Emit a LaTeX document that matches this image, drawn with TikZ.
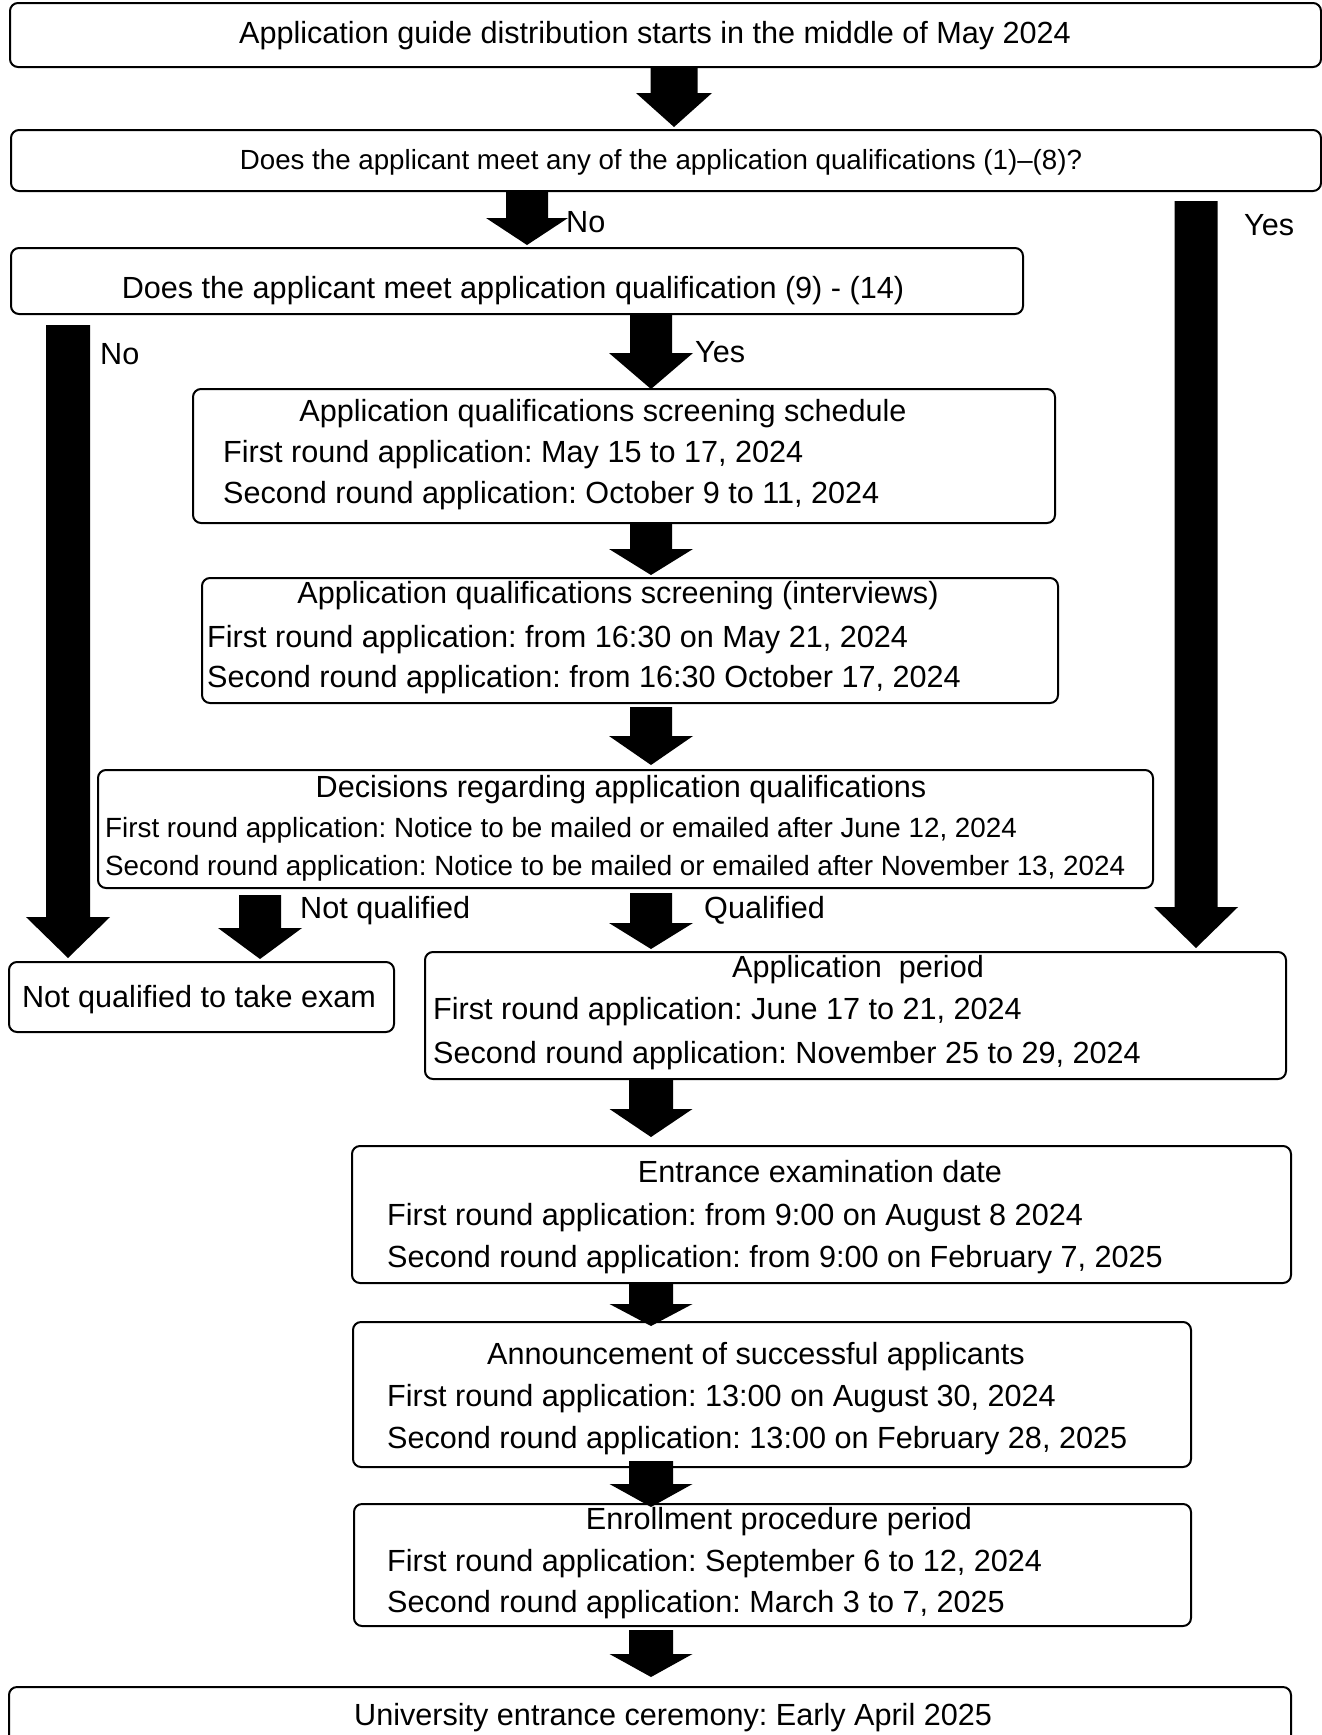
\documentclass[tikz,border=0pt]{standalone}
\usepackage{fontspec}
\setmainfont{Liberation Sans}
\usetikzlibrary{calc}
\frenchspacing

\tikzset{
  box/.style={draw, line width=2pt, rounded corners=8pt, anchor=north west, inner sep=0pt, fill=white},
  txt/.style={font=\fontsize{30.6}{36}\selectfont, inner sep=0pt, anchor=base},
  txtl/.style={txt, anchor=base west},
  smalltxt/.style={font=\fontsize{27.8}{33}\selectfont, inner sep=0pt, anchor=base west},
  smallc/.style={font=\fontsize{27.7}{33}\selectfont, inner sep=0pt, anchor=base},
  lbl/.style={txt, anchor=base west},
}

% #1 start point, #2 tip point, #3 head length, #4 head half width, #5 shaft half width
\newcommand\blockarrow[5]{%
  \fill let \p1=#1, \p2=#2 in
    (\x1-#5pt,\y1) -- (\x1-#5pt,\y2+#3pt) -- (\x1-#4pt,\y2+#3pt) -- (\x1,\y2)
    -- (\x1+#4pt,\y2+#3pt) -- (\x1+#5pt,\y2+#3pt) -- (\x1+#5pt,\y1) -- cycle;}

\begin{document}
\begin{tikzpicture}[x=1pt,y=-1pt]
\clip (0,0) rectangle (1322,1735);
\fill[white] (0,0) rectangle (1322,1735);

% column coordinates for the block arrows
\coordinate (cA) at (674,0);
\coordinate (cM) at (651,0);
\coordinate (cN) at (527,0);
\coordinate (cL) at (68,0);
\coordinate (cR) at (1196,0);
\coordinate (cQ) at (260,0);

% boxes
\node[box, minimum width=1311pt, minimum height=64pt]  (b1)  at (9,2) {};
\node[box, minimum width=1310pt, minimum height=61pt]  (b2)  at (10,129) {};
\node[box, minimum width=1012pt, minimum height=66pt]  (b3)  at (10,247) {};
\node[box, minimum width=862pt,  minimum height=134pt] (b4)  at (192,388) {};
\node[box, minimum width=856pt,  minimum height=125pt] (b5)  at (201,577) {};
\node[box, minimum width=1055pt, minimum height=118pt] (b6)  at (97,769) {};
\node[box, minimum width=385pt,  minimum height=70pt]  (b7)  at (8,961) {};
\node[box, minimum width=861pt,  minimum height=127pt] (b8)  at (424,951) {};
\node[box, minimum width=939pt,  minimum height=137pt] (b9)  at (351,1145) {};
\node[box, minimum width=838pt,  minimum height=145pt] (b10) at (352,1321) {};
\node[box, minimum width=837pt,  minimum height=122pt] (b11) at (353,1503) {};
\node[box, minimum width=1282pt, minimum height=80pt]  (b12) at (8,1686) {};

% texts
\node[txt] (t1) at (655,43) {Application guide distribution starts in the middle of May 2024};
\node[smallc] (t2) at (661,169) {Does the applicant meet any of the application qualifications (1)–(8)?};
\node[txt] (t3) at (513,298) {Does the applicant meet application qualification (9) - (14)};

\node[txt]  (t4)  at (603,421) {Application qualifications screening schedule};
\node[txtl] (t4a) at (223,462) {First round application: May 15 to 17, 2024};
\node[txtl] (t4b) at (223,503) {Second round application: October 9 to 11, 2024};

\node[txt]  (t5)  at (618,603) {Application qualifications screening (interviews)};
\node[txtl] (t5a) at (207,647) {First round application: from 16:30 on May 21, 2024};
\node[txtl] (t5b) at (207,687) {Second round application: from 16:30 October 17, 2024};

\node[txt]  (t6)  at (621,797) {Decisions regarding application qualifications};
\node[smalltxt] (t6a) at (105,837) {First round application: Notice to be mailed or emailed after June 12, 2024};
\node[smalltxt] (t6b) at (105,875) {Second round application: Notice to be mailed or emailed after November 13, 2024};

\node[txt] (t7) at (199,1007) {Not qualified to take exam};

\node[txt]  (t8)  at (858,977) {Application~~period};
\node[txtl] (t8a) at (433,1019) {First round application: June 17 to 21, 2024};
\node[txtl] (t8b) at (433,1063) {Second round application: November 25 to 29, 2024};

\node[txt]  (t9)  at (820,1182) {Entrance examination date};
\node[txtl] (t9a) at (387,1225) {First round application: from 9:00 on August 8 2024};
\node[txtl] (t9b) at (387,1267) {Second round application: from 9:00 on February 7, 2025};

\node[txt]  (t10)  at (756,1364) {Announcement of successful applicants};
\node[txtl] (t10a) at (387,1406) {First round application: 13:00 on August 30, 2024};
\node[txtl] (t10b) at (387,1448) {Second round application: 13:00 on February 28, 2025};

\node[txt]  (t11)  at (779,1529) {Enrollment procedure period};
\node[txtl] (t11a) at (387,1571) {First round application: September 6 to 12, 2024};
\node[txtl] (t11b) at (387,1612) {Second round application: March 3 to 7, 2025};

\node[txtl] (t12) at (354,1725) {University entrance ceremony: Early April 2025};

% labels
\node[lbl] (lno1)  at (566,232)  {No};
\node[lbl] (lyes1) at (1244,235) {Yes};
\node[lbl] (lno2)  at (100,364)  {No};
\node[lbl] (lyes2) at (695,362)  {Yes};
\node[lbl] (lnq)   at (300,918)  {Not qualified};
\node[lbl] (lq)    at (704,918)  {Qualified};

% block arrows
\blockarrow{(b1.south -| cA)}{($(b2.north -| cA)+(0,-2)$)}{34}{38}{23.5}
\blockarrow{(b2.south -| cN)}{($(b3.north -| cN)+(0,-2)$)}{27}{41}{21}
\blockarrow{(b3.south -| cM)}{($(b4.north -| cM)+(0,1)$)}{36}{42}{21}
\blockarrow{(b4.south -| cM)}{($(b5.north -| cM)+(0,-2)$)}{26}{42}{21}
\blockarrow{($(b5.south -| cM)+(0,3)$)}{($(b6.north -| cM)+(0,-4)$)}{29}{42}{21}
\blockarrow{($(b6.south -| cQ)+(0,6)$)}{($(b7.north -| cQ)+(0,-2)$)}{31}{42}{21}
\blockarrow{($(b6.south -| cM)+(0,4)$)}{($(b8.north -| cM)+(0,-2)$)}{26}{42}{21}
\blockarrow{($(b3.south -| cL)+(0,10)$)}{($(b7.north -| cL)+(0,-3)$)}{41}{42}{22}
\blockarrow{($(b2.south -| cR)+(0,9)$)}{($(b8.north -| cR)+(0,-3)$)}{41}{42}{21.5}
\blockarrow{(b8.south -| cM)}{($(b9.north -| cM)+(0,-8)$)}{28}{41.5}{22}
\blockarrow{(b9.south -| cM)}{($(b10.north -| cM)+(0,5)$)}{22}{41.5}{22}
\blockarrow{($(b10.south -| cM)+(0,-7)$)}{($(b11.north -| cM)+(0,4)$)}{23}{41.5}{22}
\blockarrow{($(b11.south -| cM)+(0,3)$)}{($(b12.north -| cM)+(0,-9)$)}{23}{41.5}{22}
\end{tikzpicture}
\end{document}
